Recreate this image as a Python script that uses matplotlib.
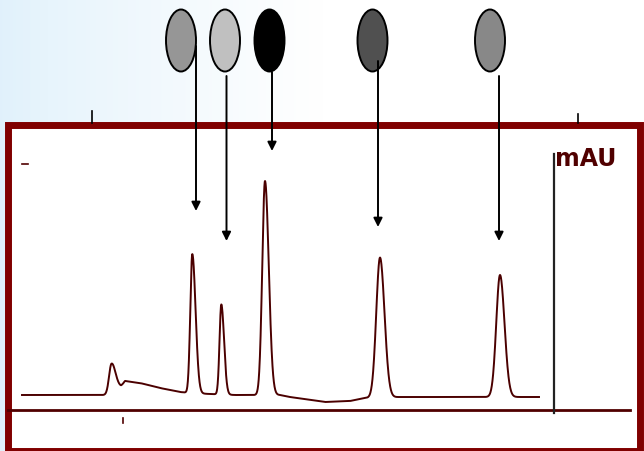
import numpy as np
import matplotlib
matplotlib.use('Agg')
import matplotlib.pyplot as plt
from matplotlib.patches import Ellipse, Rectangle

# peak table: retention time (min), height above baseline (mAU), left / right width
peak_times = [2.03, 3.646, 4.226, 5.10, 7.40, 9.80]
peak_heights = [29, 139, 90, 214, 140, 122]
peak_sig_left = [0.05, 0.04, 0.035, 0.055, 0.075, 0.075]
peak_sig_right = [0.08, 0.065, 0.055, 0.075, 0.09, 0.09]

# baseline
base_t = [0.24, 1.95, 2.22, 2.30, 2.6, 3.0, 3.4, 3.6, 4.0, 4.5, 5.0, 5.4, 5.6, 6.3, 6.8, 7.1, 7.8, 10.6]
base_y = [15, 15, 23, 29, 27, 22, 18, 17, 16, 15, 15, 15, 13, 8, 9, 12, 13, 13]

# standards marked above the trace (grey level of each marker, peak it points to)
marker_greys = ['#969696', '#c0c0c0', '#000000', '#505050', '#888888']
marker_x = [181, 225, 269.5, 372.5, 490]
arrow_x = [196, 226.5, 272, 378, 499]
arrow_top = [47, 77, 73, 62, 77]
arrow_tip = [212, 242, 152, 228, 242]

fig = plt.figure(figsize=(6.44, 4.52), dpi=100)

# background + frame, pixel coordinates
bg = fig.add_axes([0, 0, 1, 1])
bg.set_xlim(0, 644)
bg.set_ylim(452, 0)
bg.axis('off')
grad = np.linspace(0, 1, 256)
grad = np.clip(grad / 0.5, 0, 1) ** 0.8
img = np.zeros((1, 256, 3))
img[0, :, 0] = 0.88 + 0.12 * grad
img[0, :, 1] = 0.945 + 0.055 * grad
img[0, :, 2] = 0.985 + 0.015 * grad
bg.imshow(img, extent=[0, 644, 452, 0], aspect='auto', zorder=0)
bg.add_patch(Rectangle((8.5, 126), 632, 326, facecolor='white',
                       edgecolor='#800000', lw=5, zorder=1))
bg.plot([92, 92], [112, 124], color='k', lw=1.2, zorder=2)
bg.plot([578, 578], [115, 124], color='k', lw=1.2, zorder=2)

# chromatogram
ax = fig.add_axes([10 / 644, (452 - 411) / 452, 620 / 644, 281 / 452])
ax.patch.set_visible(False)
ax.set_xlim(0, 12.4)
ax.set_ylim(0, 281)
ax.axis('off')

t = np.linspace(0.24, 10.58, 3000)
y = np.interp(t, base_t, base_y)
for tr, h, sl, sr in zip(peak_times, peak_heights, peak_sig_left, peak_sig_right):
    s = np.where(t < tr, sl, sr)
    y = y + h * np.exp(-0.5 * ((t - tr) / s) ** 2)
ax.plot(t, y, color='#4b0000', lw=1.4)

ax.plot([-0.05, 12.4], [0, 0], color='#500000', lw=2, clip_on=False)
ax.plot([10.88, 10.88], [-3, 256], color='#222222', lw=1.6, clip_on=False)
ax.text(10.9, 252, 'mAU', color='#500000', fontsize=17, fontweight='heavy',
        ha='left', va='center')
ax.plot([2.26, 2.26], [-8, -13], color='#500000', lw=1.2, clip_on=False)
ax.plot([0.24, 0.36], [246, 246], color='#500000', lw=1.2, clip_on=False)

# markers and arrows on top
top = fig.add_axes([0, 0, 1, 1])
top.patch.set_visible(False)
top.set_xlim(0, 644)
top.set_ylim(452, 0)
top.axis('off')
for mx, c in zip(marker_x, marker_greys):
    top.add_patch(Ellipse((mx, 41.5), 30, 62, facecolor=c, edgecolor='k', lw=1.4))
for ax_, y0, y1 in zip(arrow_x, arrow_top, arrow_tip):
    top.annotate('', xy=(ax_, y1), xytext=(ax_, y0),
                 arrowprops=dict(arrowstyle='-|>', color='k', lw=1.4,
                                 mutation_scale=13, shrinkA=0, shrinkB=0))

fig.savefig('out.png', dpi=100)
